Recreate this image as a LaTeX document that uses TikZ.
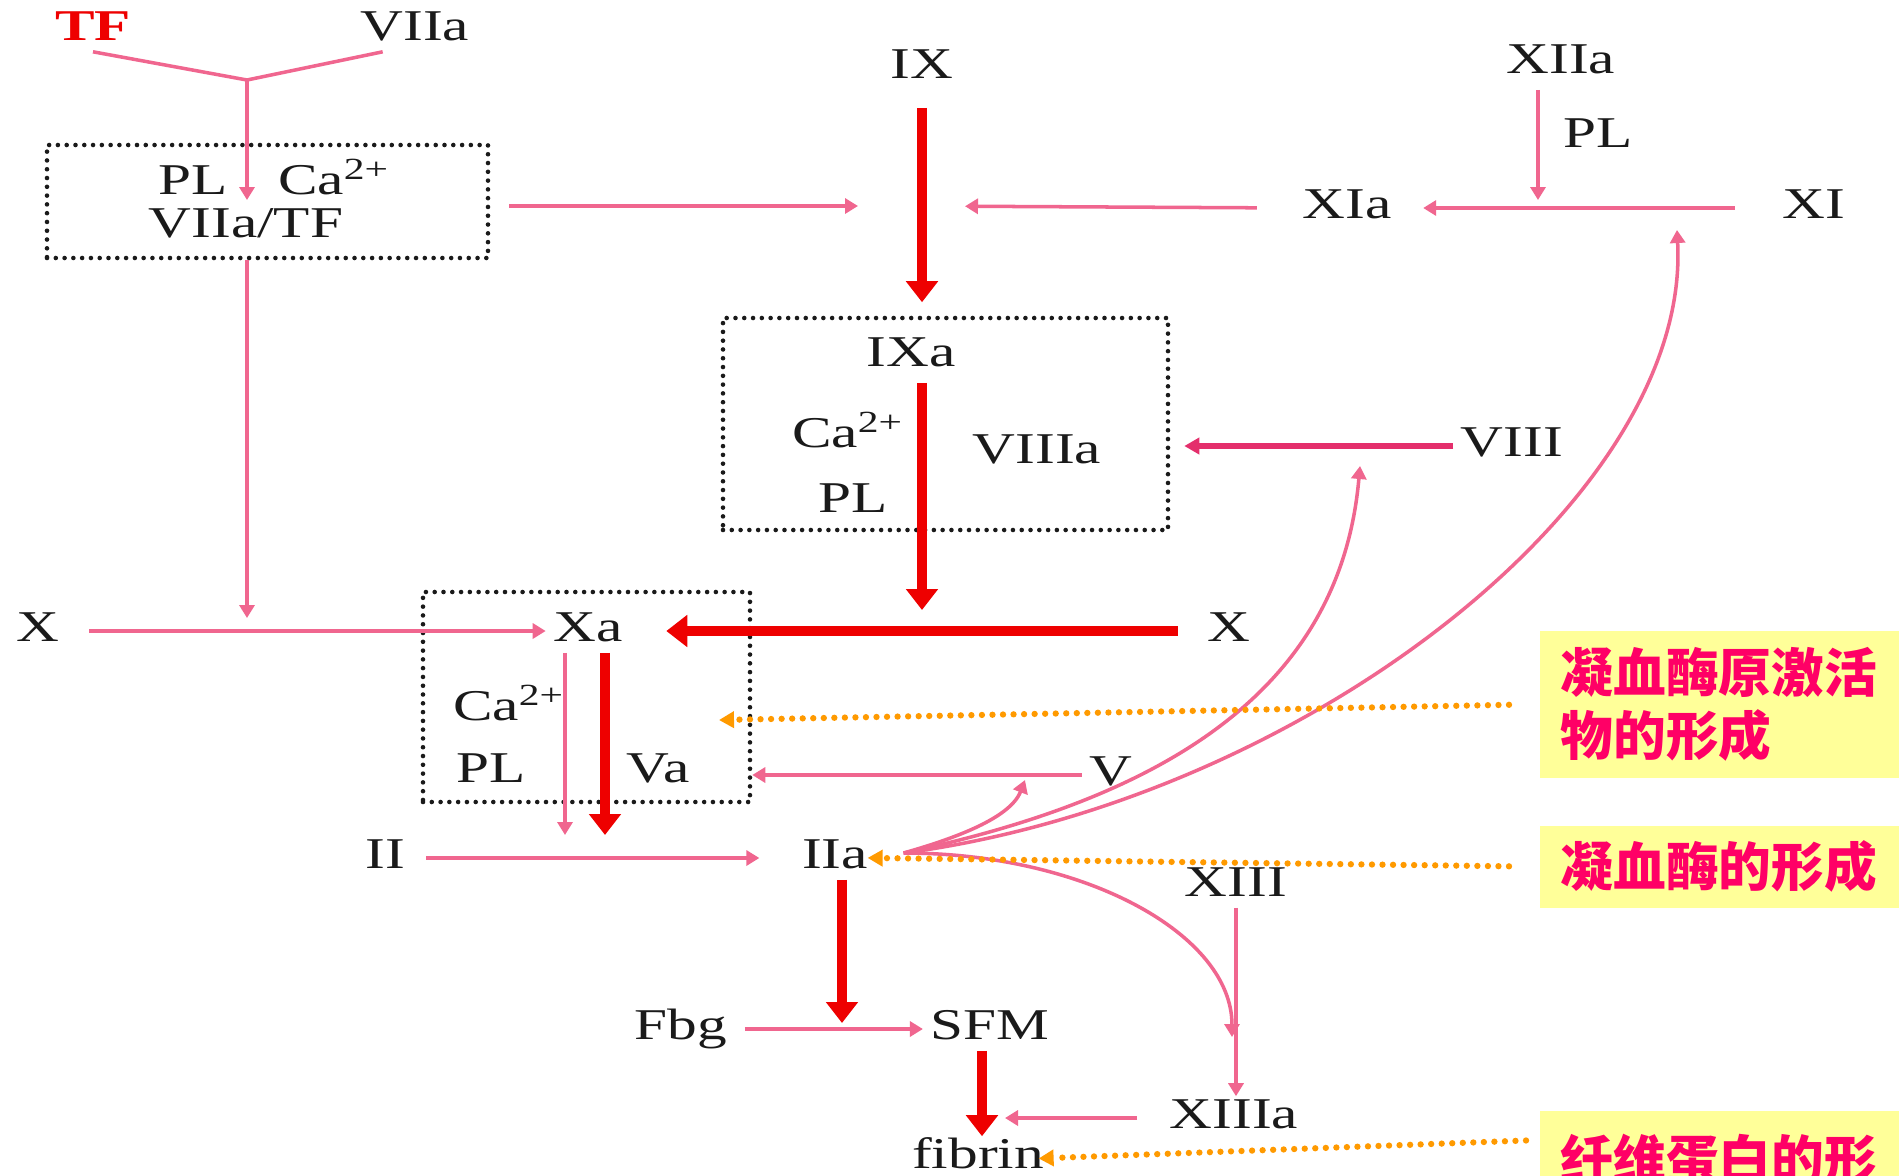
\documentclass[tikz,border=0pt]{standalone}
\usepackage{fontspec}
\setmainfont{Liberation Serif}[FakeStretch=1.35]
\newfontfamily\cjk{Noto Sans CJK SC}
\usetikzlibrary{arrows.meta,calc}
\definecolor{ink}{HTML}{1A1A1A}
\definecolor{rose}{HTML}{F0668F}
\definecolor{deeprose}{HTML}{E42F6C}
\definecolor{blood}{HTML}{EE0000}
\definecolor{amber}{HTML}{FF9A00}
\definecolor{lemon}{HTML}{FFFF99}
\definecolor{cnote}{HTML}{FF0066}

\begin{document}
\begin{tikzpicture}[
  x=0.1mm,y=-0.1mm,
  text=ink,
  lbl/.style={font=\fontsize{12.5}{14}\selectfont,inner xsep=2pt,inner ysep=0pt,
    text height=9pt,text depth=3pt},
  feed/.style={draw=rose,line width=1pt,-{Triangle[length=1.3mm,width=1.5mm]}},
  cascade/.style={draw=blood,line width=2.8pt,-{Triangle[length=2.1mm,width=3.1mm]}},
  cplx/.style={draw=ink,line width=1.3pt,dash pattern=on 0pt off 2.5pt,line cap=round},
  hint/.style={draw=amber,line width=1.8pt,dash pattern=on 0pt off 3pt,line cap=round,
    -{Triangle[length=1.5mm,width=1.6mm]}},
  note/.style={fill=lemon,text=cnote,font=\cjk\bfseries\fontsize{15}{18}\selectfont,
    anchor=north west,text width=34mm,align=left,inner xsep=2.1mm}
]
  \fill[white] (0,0) rectangle (1899,1176);
  \useasboundingbox (0,0) rectangle (1899,1176);

  % factor labels
  \node[lbl,text=blood,font=\fontsize{12.5}{14}\selectfont\bfseries] (TF) at (93,30) {TF};
  \foreach \n/\x/\y/\t in {VIIaT/415/30/VIIa, PLa/193/184/PL, CaA/334/184/{Ca\textsuperscript{2+}},
      VIIaTF/246/227/{VIIa/TF}, IX/922/68/IX, XIIa/1561/63/XIIa, PLb/1598/137/PL,
      XIa/1347/208/XIa, XI/1814/208/XI, IXa/911/356/IXa, CaB/848/437/{Ca\textsuperscript{2+}},
      PLc/853/502/PL, VIIIa/1037/453/VIIIa, VIII/1512/446/VIII,
      Xl/38/631/X, Xa/588/631/Xa, Xr/1229/631/X, CaC/509/710/{Ca\textsuperscript{2+}},
      PLd/491/772/PL, Va/658/772/Va, V/1111/775/V, II/385/858/II, IIa/835/858/IIa,
      XIII/1236/886/XIII, Fbg/681/1029/Fbg, SFM/990/1029/SFM, XIIIa/1234/1118/XIIIa,
      fibrin/978/1158/fibrin}
    \node[lbl] (\n) at (\x,\y) {\t};

  % complexes
  \node[cplx,minimum width=44.1mm,minimum height=11.3mm] (boxTF) at (267.5,201.5) {};
  \node[cplx,minimum width=44.5mm,minimum height=21.2mm] (boxIX) at (945.5,424) {};
  \node[cplx,minimum width=32.7mm,minimum height=21mm] (boxXa) at (586.5,697) {};

  % notes
  \node[note,minimum height=14.7mm] (noteA) at (1539,630) {凝血酶原激活\\物的形成};
  \node[note,minimum height=8.2mm] (noteB) at (1539,825) {凝血酶的形成};
  \node[note,inner ysep=2.3mm] (noteC) at (1539,1110) {纤维蛋白的形};

  \coordinate (J) at (247,80);
  \coordinate (Jtip) at (247,200);
  \coordinate (IXj) at (922,206);
  \coordinate (XIj) at (1538,206);
  \coordinate (IIjA) at (565,858);
  \coordinate (IIjB) at (605,858);
  \coordinate (FbgJ) at (842,1029);
  \coordinate (Vhit) at (1025,780);
  \coordinate (VIIIhit) at (1360,466);
  \coordinate (XIhit) at (1677,230);
  \coordinate (XIIIhit) at (1232,1037);
  \coordinate (oA) at (719,720);
  \coordinate (IIaout) at ([xshift=2.8mm,yshift=0.5mm]IIa.east);

  % extrinsic path
  \draw[draw=rose,line width=1pt] (TF.south) -- (J) -- (VIIaT.214);
  \draw[feed] (J) -- (Jtip);
  \draw[feed,shorten <=1.9mm,shorten >=6.4mm] (boxTF.east |- IXj) -- (IXj);
  \draw[feed,shorten >=1.3mm] (J |- boxTF.south) -- (J |- Xl);

  % intrinsic path
  \draw[feed,shorten <=0.5mm,shorten >=0.6mm] (XIj |- XIIa.south) -- (XIj);
  \draw[feed,shorten <=4mm,shorten >=2.4mm] (XI.west) -- (XIa.east);
  \draw[feed,shorten <=3.8mm,shorten >=4.3mm] (XIa.west) -- (IXj);
  \draw[cascade,shorten <=1.8mm,shorten >=3.2mm] (IX.south) -- (IX.south |- IXa.north);
  \draw[cascade,shorten <=0.5mm,shorten >=2.1mm] (IX.south |- IXa.south) -- (IX.south |- Xr.west);
  \draw[draw=deeprose,line width=1.6pt,-{Triangle[length=1.5mm,width=1.6mm]},shorten >=1.4mm]
    (VIII.west) -- (VIII.west -| boxIX.east);

  % common path
  \draw[feed,shorten <=2.2mm] (Xl.east) -- (Xa.west);
  \draw[cascade,shorten <=2.2mm,shorten >=3.6mm] (Xr.west) -- (Xa.east);
  \draw[feed] (V.west) -- (V.west -| boxXa.east);
  \draw[feed,shorten >=2.3mm] (IIjA |- Xa.south) -- (IIjA);
  \draw[cascade,shorten >=2.3mm] (IIjB |- Xa.south) -- (IIjB);
  \draw[feed,shorten <=1.4mm,shorten >=3.5mm] (II.east) -- (IIa.west);
  \draw[cascade,shorten >=0.6mm] (FbgJ |- IIa.south) -- (FbgJ);
  \draw[feed,shorten <=1mm] (Fbg.east) -- (SFM.west);
  \draw[cascade] ([xshift=-0.8mm]SFM.south) -- ([xshift=-0.8mm]SFM.south |- fibrin.north);
  \draw[feed] (XIII.south) -- (XIII.south |- XIIIa.north);
  \draw[feed,shorten <=2.5mm,shorten >=2.3mm] (XIIIa.west) -- ([xshift=-0.8mm]SFM.south |- XIIIa.west);

  % thrombin feedback
  \draw[feed] (IIaout) .. controls +(16:4.4mm) and +(-111:4.3mm) .. (Vhit);
  \draw[feed] (IIaout) .. controls +(12:25mm) and +(-95:23.5mm) .. (VIIIhit);
  \draw[feed] (IIaout) .. controls +(7.5:40mm) and +(-87:27mm) .. (XIhit);
  \draw[feed] (IIaout) .. controls +(0:18.2mm) and +(90:10.2mm) .. (XIIIhit);

  % hints
  \draw[hint,shorten <=3mm] (noteA.west) -- (oA);
  \draw[hint,shorten <=3mm,shorten >=-0.8mm] (noteB.west) -- (IIa.east);
  \draw[hint,shorten <=1.3mm,shorten >=-1.3mm] ([yshift=-3mm]noteC.north west) -- (fibrin.east);
\end{tikzpicture}
\end{document}
